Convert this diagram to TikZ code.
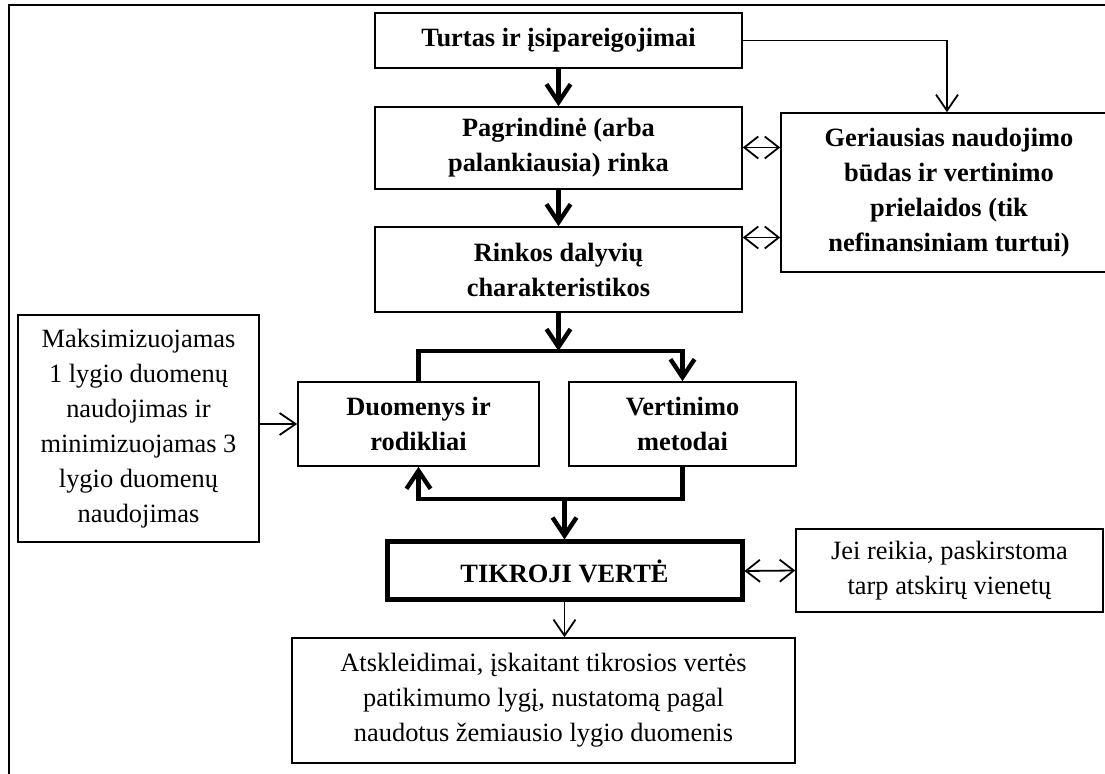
\documentclass[tikz,border=0pt]{standalone}
\usepackage{fontspec}
\setmainfont{Liberation Serif}
\usetikzlibrary{arrows.meta}

\begin{document}
\begin{tikzpicture}[x=0.5pt,y=-0.5pt,
  box/.style={draw, line width=0.8pt, align=center, inner sep=0pt, font=\fontsize{13.2}{17.5}\selectfont},
  bbox/.style={box, font=\fontsize{13.2}{17.5}\selectfont\bfseries},
  heavy/.style={draw, line width=2.2pt, -{Straight Barb[length=9pt,width=12pt]}},
  light/.style={draw, line width=0.9pt, -{Straight Barb[length=8pt,width=11pt]}},
  both/.style={draw, line width=0.9pt, {Straight Barb[length=7pt,width=11pt]}-{Straight Barb[length=7pt,width=11pt]}}]
\clip (0,0) rectangle (1105,774);
\path[draw, line width=1pt] (9,5) rectangle (1140,800);

\node[bbox, minimum width=183.5pt, minimum height=27.5pt] (turtas) at (558.5,40.5) {Turtas ir įsipareigojimai};
\node[bbox, minimum width=183.5pt, minimum height=41pt] (pagr) at (558.5,148) {Pagrindinė (arba\\ palankiausia) rinka};
\node[bbox, minimum width=183.5pt, minimum height=42.5pt] (rinkos) at (558.5,269.5) {Rinkos dalyvių\\ charakteristikos};
\node[bbox, minimum width=168pt, minimum height=79.5pt] (geri) at (949,192.5) {Geriausias naudojimo\\ būdas ir vertinimo\\ prielaidos (tik\\ nefinansiniam turtui)};
\node[box, minimum width=120.5pt, minimum height=113.5pt] (maks) at (138.5,428.5) {Maksimizuojamas\\ 1 lygio duomenų\\ naudojimas ir\\ minimizuojamas 3\\ lygio duomenų\\ naudojimas};
\node[bbox, minimum width=120.5pt, minimum height=42pt] (duom) at (418.5,424) {Duomenys ir\\ rodikliai};
\node[bbox, minimum width=113.5pt, minimum height=42pt] (vert) at (682.5,424) {Vertinimo\\ metodai};
\node[bbox, line width=2.5pt, minimum width=177.5pt, minimum height=29pt] (tikroji) at (564.5,571) {TIKROJI VERTĖ};
\node[box, minimum width=153.5pt, minimum height=41.5pt] (jei) at (949.5,570.5) {Jei reikia, paskirstoma\\ tarp atskirų vienetų};
\node[box, minimum width=251.5pt, minimum height=62.5pt] (atsk) at (543.5,700.5) {Atskleidimai, įskaitant tikrosios vertės\\ patikimumo lygį, nustatomą pagal\\ naudotus žemiausio lygio duomenis};

\coordinate (g1) at ([yshift=22.5pt]geri.west);
\coordinate (g2) at ([yshift=-22.5pt]geri.west);
\coordinate (split) at (558.5,351);
\coordinate (merge) at (564.5,499);

\path[heavy] (turtas) -- (pagr);
\path[heavy] (pagr) -- (rinkos);
\path[light] (turtas.east) -| ([xshift=-1pt]geri.north);
\path[both] (pagr.east |- g1) -- (g1);
\path[both] (rinkos.east |- g2) -- (g2);
\path[heavy] (rinkos) -- (split);
\path[heavy] (duom.north) |- (vert.north |- split) -- (vert.north);
\path[heavy] (vert.south) |- (duom.south |- merge) -- (duom.south);
\path[heavy] (merge) -- (tikroji);
\path[light] (maks.east |- duom.west) -- (duom.west);
\path[both] (tikroji.east) -- (jei.west);
\path[light] (tikroji.south) -- (tikroji.south |- atsk.north);
\end{tikzpicture}
\end{document}
